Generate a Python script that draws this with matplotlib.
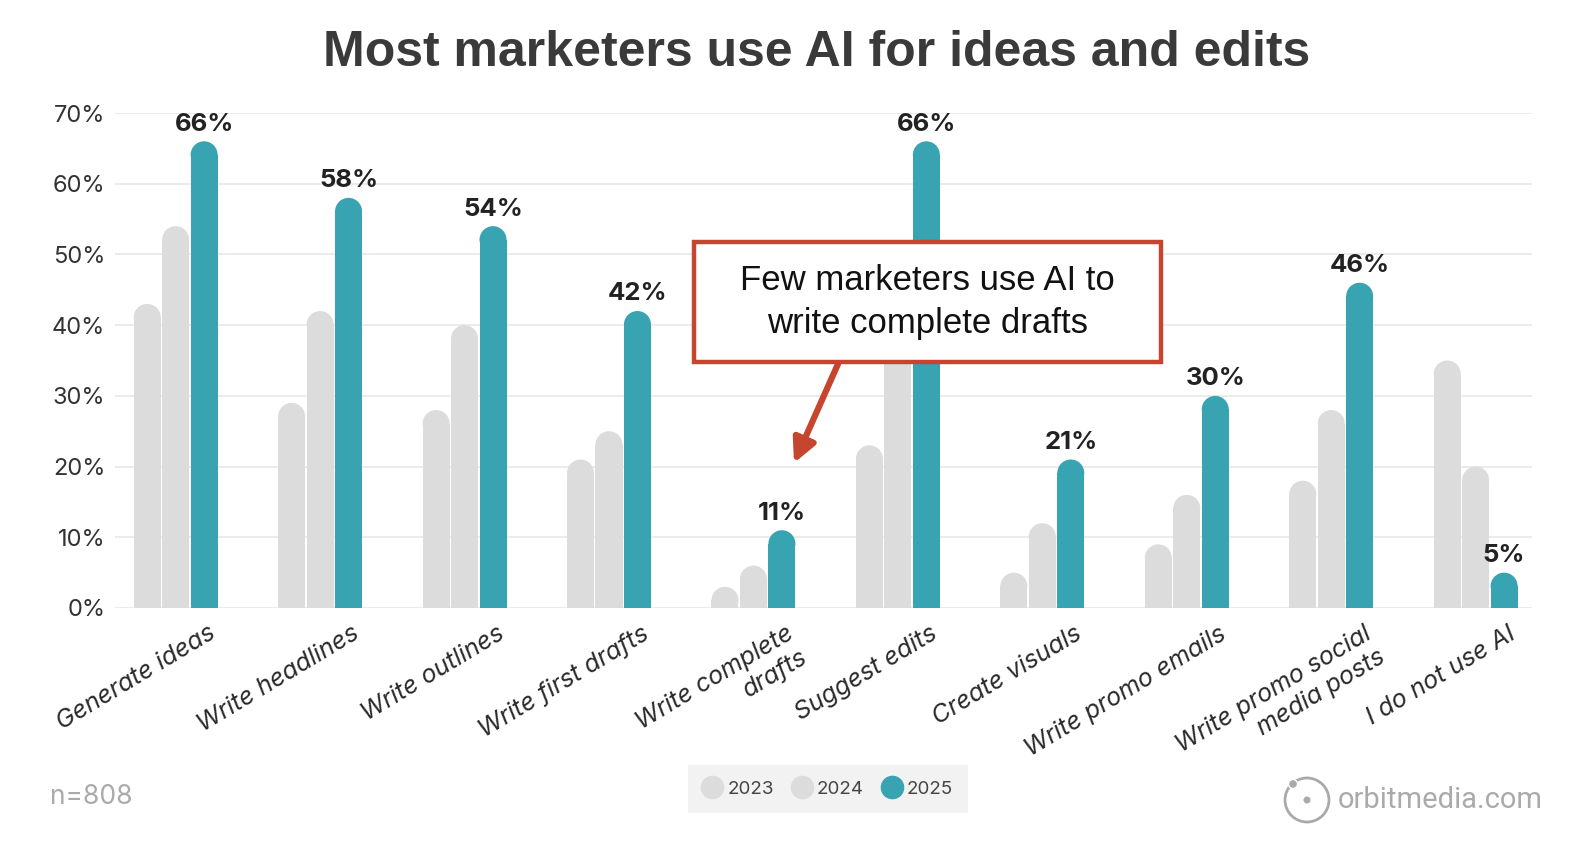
import matplotlib
matplotlib.use("Agg")
import matplotlib.pyplot as plt
from matplotlib.patches import Ellipse, Rectangle
from matplotlib.lines import Line2D

# data
categories = ["Generate ideas", "Write headlines", "Write outlines", "Write first drafts",
              "Write complete\ndrafts", "Suggest edits", "Create visuals", "Write promo emails",
              "Write promo social\nmedia posts", "I do not use AI"]
v2023 = [43, 29, 28, 21, 3, 23, 5, 9, 18, 35]
v2024 = [54, 42, 40, 25, 6, 43, 12, 16, 28, 20]
v2025 = [66, 58, 54, 42, 11, 66, 21, 30, 46, 5]
years = ["2023", "2024", "2025"]
yticks = [0, 10, 20, 30, 40, 50, 60, 70]

GRAY = "#dcdcdc"
TEAL = "#38a4b1"
RED = "#c5452e"
W, H = 1578, 850

plt.rcParams['font.family'] = ['Inter', 'DejaVu Sans']

fig = plt.figure(figsize=(W / 100, H / 100), dpi=100)
ax_l, ax_r, ax_t, ax_b = 115, 1532, 113, 608
ax = fig.add_axes([ax_l / W, 1 - ax_b / H, (ax_r - ax_l) / W, (ax_b - ax_t) / H])

xmin, xmax = -0.42, 9.39
ax.set_xlim(xmin, xmax)
ax.set_ylim(0, 70)

bw = 0.187
off = 0.197
# cap radius in y units so the top is a half circle
px_per_x = (ax_r - ax_l) / (xmax - xmin)
px_per_y = (ax_b - ax_t) / 70
r_px = bw * px_per_x / 2
r_y = r_px / px_per_y


def rounded_bar(x, v, color):
    ax.bar(x, max(v - r_y, 0), width=bw, color=color, zorder=2, linewidth=0)
    ax.add_patch(Ellipse((x, v - r_y), bw, 2 * r_y, color=color, zorder=2, linewidth=0))


for i in range(len(categories)):
    rounded_bar(i - off, v2023[i], GRAY)
    rounded_bar(i, v2024[i], GRAY)
    rounded_bar(i + off, v2025[i], TEAL)
    ax.annotate(f"{v2025[i]}%", (i + off, v2025[i]), xytext=(0, 4), textcoords="offset points",
                ha="center", va="bottom", fontsize=18.5, fontweight="bold", color="#222222", zorder=3)

ax.set_yticks(yticks)
ax.set_yticklabels([f"{t}%" for t in yticks], fontsize=17, color="#333333")
ax.grid(axis="y", color="#e8e8e8", linewidth=1.2, zorder=0)
ax.set_axisbelow(True)
for s in ax.spines.values():
    s.set_visible(False)
ax.tick_params(axis="both", length=0)
ax.tick_params(axis="y", pad=7)

ax.set_xticks([i + 0.22 for i in range(len(categories))])
ax.set_xticklabels(categories, rotation=31, ha="right", va="top", rotation_mode="anchor",
                   fontsize=18, color="#2a2a2a", style="italic", multialignment="right")
ax.tick_params(axis="x", pad=10)

# title
fig.text(817 / W, 1 - 53 / H, "Most marketers use AI for ideas and edits", ha="center", va="center",
         fontsize=36, fontweight="bold", color="#3a3a3a", family=["Liberation Sans", "DejaVu Sans"])

# annotation box
bx0, by0, bx1, by1 = 694, 242, 1161, 362
fig.patches.append(Rectangle((bx0 / W, 1 - by1 / H), (bx1 - bx0) / W, (by1 - by0) / H,
                             transform=fig.transFigure, facecolor="white", edgecolor=RED,
                             linewidth=3.2, zorder=5))
fig.text((bx0 + bx1) / 2 / W, 1 - (by0 + by1) / 2 / H,
         "Few marketers use AI to\nwrite complete drafts", ha="center", va="center",
         fontsize=25, color="#111111", linespacing=1.4, zorder=6,
         family=["Liberation Sans", "DejaVu Sans"])
ax.annotate("", xy=(794 / W, 1 - 463 / H), xytext=(838 / W, 1 - 364 / H),
            xycoords="figure fraction", textcoords="figure fraction",
            arrowprops=dict(arrowstyle="-|>,head_length=1.4,head_width=0.7", color=RED, lw=4.5,
                            shrinkA=0, shrinkB=0), zorder=6)

# legend
handles = [Line2D([], [], marker="o", linestyle="", markersize=16, markerfacecolor=c,
                  markeredgecolor=c) for c in (GRAY, GRAY, TEAL)]
leg = fig.legend(handles, years, loc="center", bbox_to_anchor=(828 / W, 1 - 789 / H), ncol=3,
                 frameon=True, fancybox=False, facecolor="#efefef", edgecolor="#efefef",
                 fontsize=13.5, handletextpad=0.3, columnspacing=1.0, borderpad=0.8,
                 handlelength=1.0, labelcolor="#444444")
leg.get_frame().set_linewidth(0)

# footer
fig.text(50 / W, 1 - 797 / H, "n=808", ha="left", va="center", fontsize=19, color="#aaaaaa")
fig.text(1338 / W, 1 - 800 / H, "orbitmedia.com", ha="left", va="center", fontsize=21,
         color="#aaaaaa", family=["Roboto", "DejaVu Sans"])
cx, cy, cr = 1307, 800, 22
fig.patches.append(Ellipse((cx / W, 1 - cy / H), 2 * cr / W, 2 * cr / H, transform=fig.transFigure,
                           facecolor="none", edgecolor="#aaaaaa", linewidth=2))
fig.patches.append(Ellipse((cx / W, 1 - cy / H), 7 / W, 7 / H, transform=fig.transFigure,
                           facecolor="#aaaaaa", edgecolor="none"))
fig.patches.append(Ellipse((1293 / W, 1 - 784 / H), 9 / W, 9 / H, transform=fig.transFigure,
                           facecolor="#aaaaaa", edgecolor="white", linewidth=1))

fig.savefig("out.png", dpi=100, facecolor="white")
